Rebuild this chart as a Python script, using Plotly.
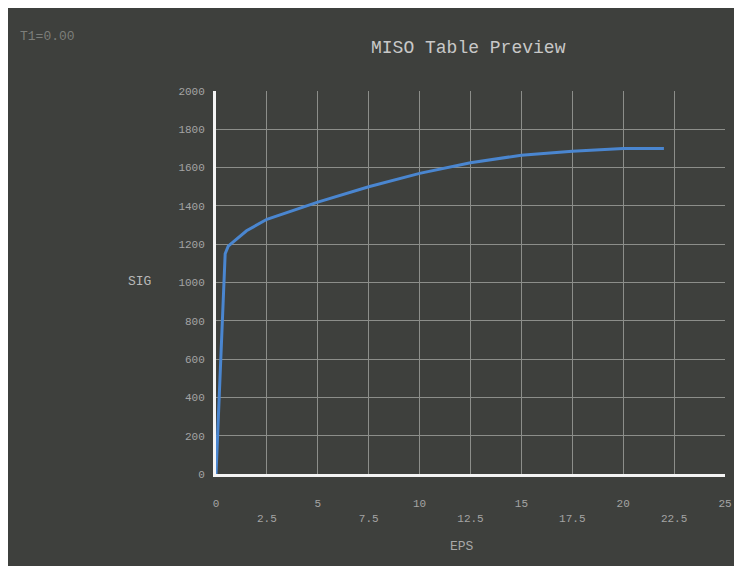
import plotly.graph_objects as go

eps = [0, 0.45, 0.6, 1.5, 2.5, 5, 7.5, 10, 12.5, 15, 17.5, 20, 22]
sig = [0, 1150, 1190, 1270, 1330, 1420, 1500, 1570, 1625, 1665, 1685, 1700, 1700]

x_tickvals = [0, 2.5, 5, 7.5, 10, 12.5, 15, 17.5, 20, 22.5, 25]
x_ticktext = ["0", "<br>2.5", "5", "<br>7.5", "10", "<br>12.5", "15", "<br>17.5", "20", "<br>22.5", "25"]
y_tickvals = [0, 200, 400, 600, 800, 1000, 1200, 1400, 1600, 1800, 2000]

BG = "#3e403d"
FONT = "Liberation Mono"

# plot area in figure pixels
PX0, PX1, PY0, PY1 = 208, 717, 83, 466
W, H = 742, 558


def px(x):
    return (x - PX0) / (PX1 - PX0)


def py(y):
    return (PY1 - y) / (PY1 - PY0)


fig = go.Figure()
fig.add_trace(go.Scatter(x=eps, y=sig, mode="lines",
                         line=dict(color="#4a86d0", width=3), hoverinfo="skip"))

fig.update_layout(
    width=W, height=H,
    margin=dict(l=PX0, r=W - PX1, t=PY0, b=H - PY1),
    paper_bgcolor=BG,
    plot_bgcolor=BG,
    showlegend=False,
    font=dict(family=FONT, color="#b4b4b4", size=12),
    xaxis=dict(range=[0, 25], tickvals=x_tickvals, ticktext=x_ticktext,
               showgrid=True, gridcolor="#8c8e8a", gridwidth=1,
               showline=True, linecolor="#f4f4f4", linewidth=3,
               zeroline=False, ticks="", ticklabelstandoff=17,
               tickfont=dict(size=11, color="#a4a4a4")),
    yaxis=dict(range=[0, 2000], tickvals=y_tickvals,
               showgrid=True, gridcolor="#8c8e8a", gridwidth=1,
               showline=True, linecolor="#f4f4f4", linewidth=3,
               zeroline=False, ticks="", ticklabelstandoff=6,
               tickfont=dict(size=11, color="#a4a4a4")),
    annotations=[
        dict(text="MISO Table Preview", xref="paper", yref="paper",
             x=px(460), y=py(40), xanchor="center", yanchor="middle",
             showarrow=False, font=dict(family=FONT, size=18, color="#c8c8c8")),
        dict(text="T1=0.00", xref="paper", yref="paper",
             x=px(10), y=py(28), xanchor="left", yanchor="middle",
             showarrow=False, font=dict(family=FONT, size=13, color="#7c7e7a")),
        dict(text="SIG", xref="paper", yref="paper",
             x=px(131), y=py(273), xanchor="center", yanchor="middle",
             showarrow=False, font=dict(family=FONT, size=13, color="#b8b8b8")),
        dict(text="EPS", xref="paper", yref="paper",
             x=px(454), y=py(538), xanchor="center", yanchor="middle",
             showarrow=False, font=dict(family=FONT, size=13, color="#a8a8a8")),
    ],
)

fig.write_html(
    "out.html",
    post_script="document.documentElement.style.overflow='hidden';"
                "document.body.style.overflow='hidden';",
)
